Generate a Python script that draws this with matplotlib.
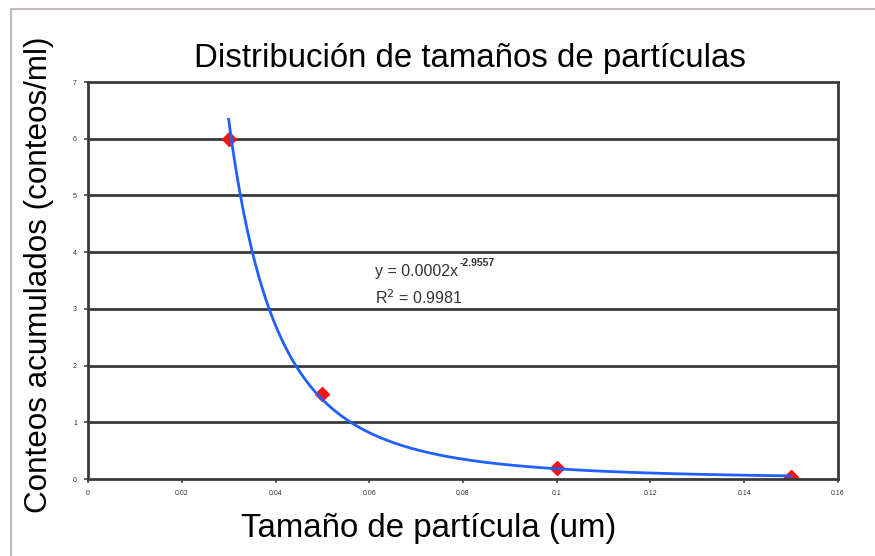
import matplotlib
matplotlib.use("Agg")
import numpy as np
import matplotlib.pyplot as plt
from matplotlib.patches import Rectangle

# datos medidos
tamano = [0.03, 0.05, 0.1, 0.15]
conteos = [6.0, 1.5, 0.2, 0.03]

# linea de tendencia potencial (ajuste de la hoja de calculo)
coef_a = 0.0002
coef_b = -2.9557
r2 = 0.9981

xticks = [0, 0.02, 0.04, 0.06, 0.08, 0.1, 0.12, 0.14, 0.16]
xlabels = ["0", "0.02", "0.04", "0.06", "0.08", "0.1", "0.12", "0.14", "0.16"]
yticks = [0, 1, 2, 3, 4, 5, 6, 7]

plt.rcParams['font.family'] = ['Liberation Sans', 'DejaVu Sans']

fig = plt.figure(figsize=(8.75, 5.56), dpi=100)
ax = fig.add_axes([88/875, 1-479/556, (838-88)/875, (479-82)/556])

# marco gris de la figura
fig.patches.append(Rectangle((11/875, -0.01), 1.02, 1-9/556+0.01, transform=fig.transFigure,
                             fill=False, edgecolor='#c4b8be', linewidth=1.5))

for yv in yticks[1:-1]:
    ax.axhline(yv, color='#3a3a3a', linewidth=2.0, zorder=1)

xs = np.linspace(tamano[0], tamano[-1], 300)
ax.plot(xs, coef_a * xs ** coef_b, color='#2060ff', linewidth=2.0, zorder=3)
ax.plot(tamano, conteos, linestyle='none', marker='D', markersize=7,
        color='#ff1010', zorder=2)

ax.set_xlim(0, 0.16)
ax.set_ylim(0, 7)
ax.set_xticks(xticks)
ax.set_xticklabels(xlabels)
ax.set_yticks(yticks)
ax.tick_params(axis='both', labelsize=5, length=3, width=1.2, color='#444444',
               labelcolor='#333333', direction='out', pad=5)
for s in ax.spines.values():
    s.set_color('#3a3a3a')
    s.set_linewidth(2.0)

t1 = ax.text(0.0612, 3.65, "y = %.4fx" % coef_a, fontsize=11.5, color='#333333',
             va='center')
ax.annotate("%.4f" % coef_b, xy=(1, 0.75), xycoords=t1, xytext=(1, 0),
            textcoords='offset points', fontsize=7.5, fontweight='bold',
            color='#333333', va='bottom', ha='left')
ax.text(0.0612, 3.19, r"R$^{2}$ = %.4f" % r2, fontsize=11.5, color='#333333',
        va='center')

fig.text(470/875, 1-58/556, "Distribución de tamaños de partículas",
         ha='center', va='center', fontsize=23.8)
fig.text(429/875, 1-528/556, "Tamaño de partícula (um)",
         ha='center', va='center', fontsize=23.8)
fig.text(39/875, 1-275/556, "Conteos acumulados (conteos/ml)",
         ha='center', va='center', rotation=90, fontsize=22.6)

fig.savefig("out.png", dpi=100)
